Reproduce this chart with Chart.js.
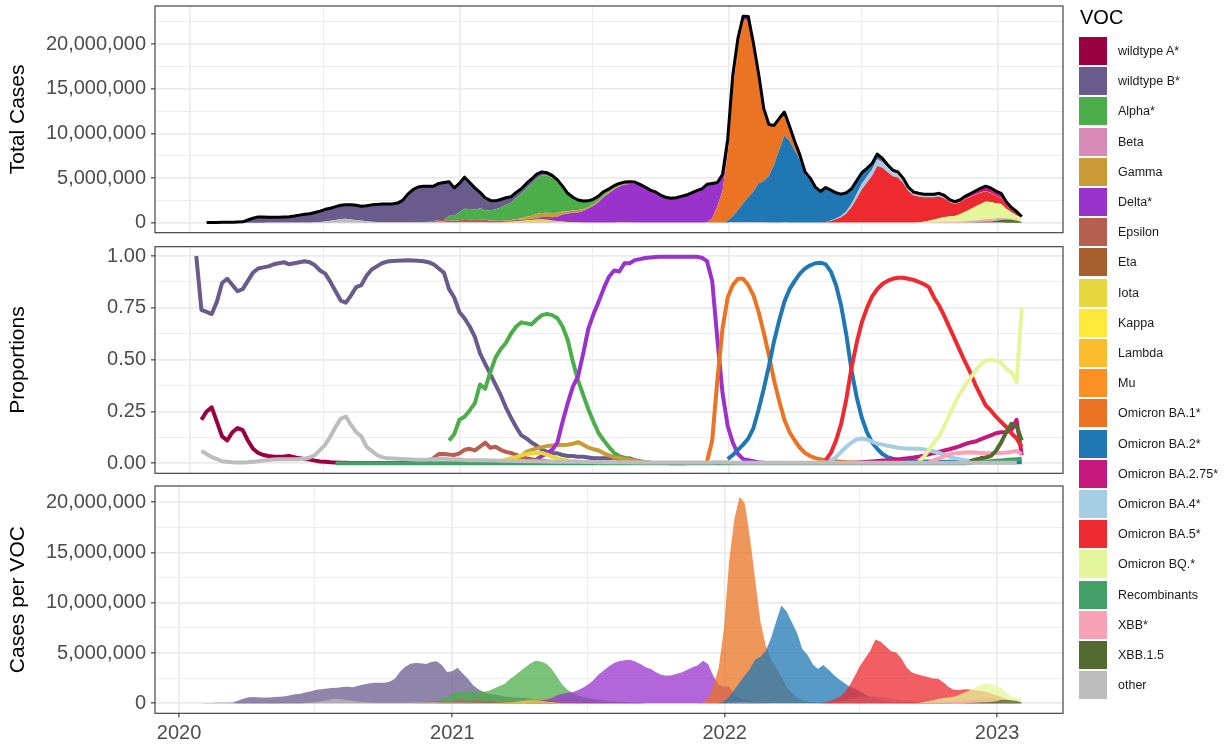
<!DOCTYPE html>
<html>
<head>
<meta charset="utf-8">
<title>SARS-CoV-2 variants of concern</title>
<script src="https://cdn.jsdelivr.net/npm/chart.js@4.4.1/dist/chart.umd.min.js"></script>
<style>
  html, body { margin: 0; padding: 0; background: #ffffff; }
  body { width: 1225px; height: 744px; position: relative; overflow: hidden;
         font-family: "Liberation Sans", Arial, Helvetica, sans-serif; }
  canvas.panel { position: absolute; left: 0; }
  #legend { position: absolute; left: 0; top: 0; width: 1225px; height: 744px; pointer-events: none; }
  #legend .ttl { position: absolute; left: 1080px; top: 6px; font-size: 20px; color: #000; }
  #legend .key { position: absolute; left: 1079px; width: 28px; height: 28px; }
  #legend .lab { position: absolute; left: 1118px; font-size: 12.5px; color: #1a1a1a; line-height: 16px; white-space: nowrap; }
</style>
</head>
<body>
<canvas id="panelTotal" class="panel" style="top:0px" width="1070" height="240"></canvas>
<canvas id="panelShare" class="panel" style="top:240px" width="1070" height="240"></canvas>
<canvas id="panelCases" class="panel" style="top:480px" width="1070" height="264"></canvas>
<div id="legend"></div>
<script>
// ---- Lineages (legend order) ----
const vocNames = ['wildtype A*', 'wildtype B*', 'Alpha*', 'Beta', 'Gamma', 'Delta*', 'Epsilon', 'Eta',
  'Iota', 'Kappa', 'Lambda', 'Mu', 'Omicron BA.1*', 'Omicron BA.2*', 'Omicron BA.2.75*', 'Omicron BA.4*',
  'Omicron BA.5*', 'Omicron BQ.*', 'Recombinants', 'XBB*', 'XBB.1.5', 'other'];
const vocColors = ['#98003f', '#695b8c', '#4cae4a', '#d98bb7', '#c99a35', '#9933cc', '#b55f51', '#a65e2e',
  '#e6d640', '#ffe93b', '#fbbd2e', '#fd8f25', '#ea7424', '#1f78b4', '#c4187c', '#a6cee3',
  '#ec2a2f', '#e5f59a', '#44a069', '#f7a2b6', '#536a30', '#bdbdbd'];

// Week index 0 = 2020-01-10; each lineage's share is reported from this week on.
const vocFirstWeek = [1, 0, 49, 55, 60, 66, 44, 58, 58, 70, 75, 80, 99, 103, 128, 121, 122, 140, 27, 142, 150, 1];

// ---- Weekly share of sequences (%) ----
const shareWildtypeA = [21, 25, 27, 20, 13, 11, 15, 17, 16, 11,
  7, 5, 4, 3.5, 3.2, 3.2, 3.3, 3.5, 3, 2.4,
  2.1, 1.8, 1.3, 0.9, 0.7, 0.5, 0.4, 0.3, 0.3, 0.2,
  0.2, 0.2, 0.2, 0.1, 0.1, 0.1, 0.1, 0.1, 0.1, 0.1,
  0.1, 0.1, 0.1, 0.1, 0.1];
const shareWildtypeB = [100, 74, 73, 72, 78, 87, 89, 86, 83, 84,
  88, 92, 94, 94.5, 95, 96, 96.5, 97, 96, 96.5,
  97, 97.5, 97, 95.5, 93, 91.5, 87.5, 83, 78.5, 77.5,
  81, 85, 86, 90.5, 93.5, 95, 96.5, 97.3, 97.6, 97.7,
  97.8, 97.9, 97.8, 97.7, 97.5, 97, 96, 94, 92, 84,
  80, 73, 70, 66, 61, 53, 48, 43, 38, 33,
  27, 22, 17.5, 13.5, 12, 10, 8.5, 6.5, 5.5, 5,
  4.8, 4, 3.5, 3.5, 3.2, 3.2, 2.8, 2.4, 2.4, 2.4,
  2.4, 2.8, 2, 2, 2.4, 1.5, 1, 0.5, 0.3, 0.2,
  0.1, 0.1, 0, 0, 0, 0];
const shareAlpha = [11, 14, 21, 22.5, 25.5, 29, 38, 36, 44, 51,
  55, 58, 62.5, 66, 68, 67.5, 67, 69.5, 71.5, 72,
  71.5, 70, 66, 59.5, 49, 40, 33, 26, 20, 14.5,
  11, 7.8, 5, 3.5, 2.7, 2, 1.3, 0.8, 0.5, 0.3];
const shareBeta = [0.2, 0.3, 0.3, 0.4, 0.4, 0.4, 0.3, 0.3, 0.2, 0.2, 0.1, 0.1];
const shareGamma = [0.3, 0.6, 2, 3.5, 5.5, 6.5, 7.2, 7.8, 8.3, 8.6,
  8.8, 8.8, 9, 9.4, 10.2, 9, 7.6, 6.8, 6.2, 4.8,
  3.8, 3, 2.5, 2, 1.6, 1.2, 0.8, 0.5, 0.3, 0.2];
const shareDelta = [2, 3.5, 5, 6.5, 10, 20, 29, 37, 42, 53,
  65, 72, 78, 84.5, 90, 93, 92.5, 96.5, 96.5, 98,
  98.5, 99, 99.3, 99.5, 99.6, 99.7, 99.7, 99.7, 99.7, 99.7,
  99.7, 99.6, 99.2, 97.5, 88, 60, 34, 18, 10, 4.5,
  2, 1.5, 1, 0.5, 0.3, 0.2, 0.1];
const shareEpsilon = [0.5, 1, 2.5, 4.5, 4.5, 4.2, 4, 4.8, 6.5, 7,
  6.2, 8, 10, 7.5, 8, 6.5, 5.5, 5, 4, 3.2,
  2.5, 2, 1.6, 1.2, 0.9, 0.7, 0.5, 0.4, 0.3, 0.2, 0.1];
const shareEta = [0.1, 0.2, 0.2, 0.3, 0.3, 0.2, 0.2, 0.1, 0.1];
const shareIota = [0.5, 1, 1.8, 2.5, 3, 3.8, 4.5, 4.8, 5, 5,
  4.2, 3.2, 2.4, 1.8, 1.3, 1, 0.7, 0.5, 0.4, 0.3, 0.2, 0.1];
const shareKappa = [0.1, 0.1, 0.2, 0.2, 0.1, 0.1];
const shareLambda = [0.1, 0.2, 0.2, 0.3, 0.3, 0.2, 0.2, 0.1, 0.1];
const shareMu = [0.1, 0.2, 0.3, 0.4, 0.4, 0.3, 0.3, 0.2, 0.2, 0.1, 0.1];
const shareBA1 = [1, 11, 40, 65, 80, 86, 89, 89, 86, 81,
  73, 63, 52, 40, 30, 21, 15, 11, 7.5, 5,
  3.5, 2.5, 2, 1.5, 1.2, 1, 0.8, 0.6, 0.5, 0.4,
  0.3, 0.2];
const shareBA2 = [2, 4, 6.5, 9, 12, 17, 26, 36, 47, 59,
  69, 78, 84, 88, 91.5, 94, 95.5, 96.5, 96.8, 96,
  92.5, 86, 76, 62, 45, 32, 22, 15, 10, 7,
  4.5, 3, 2.2, 1.8, 1.5, 1.3, 1.1, 1, 0.9, 0.9,
  0.8, 0.8, 0.8, 0.7, 0.7, 0.7, 0.6, 0.6, 0.6, 0.6,
  0.5, 0.5, 0.5, 0.5, 0.5, 0.5, 0.5, 0.5];
const shareBA275 = [0.3, 0.5, 0.7, 0.9, 1.1, 1.3, 1.5, 1.7, 1.9, 2.2,
  2.5, 2.8, 3.2, 3.7, 4.3, 5, 5.5, 6.2, 6.8, 7.5,
  8.3, 9.3, 10, 10.5, 11.5, 12.5, 13.5, 14.5, 15, 15,
  16, 21, 4];
const shareBA4 = [0.3, 0.5, 1.5, 3, 5.5, 8, 10, 11.5, 12, 11.5,
  10.5, 9.5, 9, 8.5, 8, 7.5, 7.3, 7.2, 7, 7,
  6.8, 6.3, 5.7, 5, 4, 3.2, 2.5, 2, 1.5, 1.2,
  1, 1, 0.9, 0.9, 0.8, 0.8, 0.8, 0.8, 0.8];
const shareBA5 = [1.5, 5, 11, 19, 31, 46, 58, 68, 75, 80.5,
  84, 86.5, 88, 89, 89.5, 89.5, 89, 88.5, 87.5, 86.5,
  85, 80, 76, 71, 65.5, 60, 54.5, 49, 44, 38,
  33, 28, 25.5, 22.5, 20, 17.5, 14.5, 12, 8];
const shareBQ = [1, 3, 6.5, 10, 13, 18, 23.5, 29, 33.5, 37.5,
  41, 44.5, 47.5, 49.5, 50, 49.5, 48.5, 45.5, 44, 39, 75];
const shareRecombinants = [0, 0, 0, 0, 0, 0, 0, 0, 0, 0,
  0, 0, 0, 0, 0, 0, 0, 0, 0, 0,
  0, 0, 0, 0, 0, 0, 0, 0, 0, 0,
  0, 0, 0, 0, 0, 0, 0, 0, 0, 0,
  0, 0, 0, 0, 0, 0, 0, 0, 0, 0,
  0, 0, 0, 0, 0, 0, 0, 0, 0, 0,
  0, 0, 0, 0, 0, 0, 0, 0, 0, 0,
  0, 0, 0, 0, 0, 0, 0, 0, 0, 0,
  0, 0, 0, 0, 0, 0, 0, 0, 0, 0,
  0, 0, 0, 0, 0, 0, 0, 0, 0, 0,
  0, 0, 0, 0, 0, 0, 0, 0, 0, 0,
  0, 0, 0, 0, 0, 0, 0, 0, 0, 0,
  0, 0, 0, 0.3, 0.5, 0.6, 0.8, 1, 1.2, 1.4,
  1.6, 1.8, 2, 2.2];
const shareXBB = [0.5, 1.5, 2.5, 3.5, 4.3, 4.8, 5, 5.2, 5.3, 5.2,
  5, 4.8, 4.8, 5, 5, 5.2, 5.5, 6, 4.5];
const shareXBB15 = [1, 1.8, 2.4, 2.8, 3.5, 6, 10, 15, 19, 18, 11];
const shareOther = [6, 4.5, 3, 2, 1, 0.8, 0.5, 0.4, 0.4, 0.5,
  0.8, 1, 1.3, 1.6, 1.8, 2, 2, 2, 2, 2,
  2.2, 2.8, 4, 6.5, 9, 13, 17.5, 21.5, 22.5, 18.5,
  15, 13, 8, 6, 4, 3, 2.4, 2.3, 2.2, 2.1,
  2, 1.8, 1.7, 1.7, 1.8, 2, 2.2, 2.2, 2, 2,
  1.8, 1.6, 1.5, 1.5, 1.5, 1.5, 1.4, 1.3, 1.2, 1.2,
  1.2, 1.1, 1.1, 1, 1, 1, 0.9, 0.9, 0.8, 0.8,
  0.8, 0.7, 0.7, 0.7, 0.6, 0.6, 0.6, 0.5, 0.5, 0.5,
  0.5, 0.5, 0.5, 0.5, 0.4, 0.4, 0.4, 0.4, 0.4, 0.4,
  0.4, 0.4, 0.4, 0.4, 0.4, 0.4, 0.4, 0.4, 0.4, 0.4,
  0.5, 0.5, 0.4, 0.4, 0.3, 0.3, 0.3, 0.3, 0.3, 0.3,
  0.3, 0.3, 0.3, 0.3, 0.3, 0.3, 0.3, 0.3, 0.3, 0.3,
  0.3, 0.3, 0.3, 0.3, 0.3, 0.3, 0.3, 0.3, 0.3, 0.3,
  0.3, 0.3, 0.3, 0.3, 0.3, 0.3, 0.3, 0.3, 0.3, 0.3,
  0.3, 0.3, 0.3, 0.3, 0.3, 0.3, 0.3, 0.3, 0.3, 0.3,
  0.3, 0.3, 0.3, 0.3, 0.3, 0.3, 0.3, 0.3, 0.3];

const shareSeries = [shareWildtypeA, shareWildtypeB, shareAlpha, shareBeta, shareGamma, shareDelta,
  shareEpsilon, shareEta, shareIota, shareKappa, shareLambda, shareMu, shareBA1, shareBA2, shareBA275,
  shareBA4, shareBA5, shareBQ, shareRecombinants, shareXBB, shareXBB15, shareOther];

// ---- Weekly total cases (millions), reported from week 2 on ----
const totalFirstWeek = 2;
const totalCasesM = [0.02, 0.02, 0.03, 0.04, 0.05, 0.06, 0.08, 0.1, 0.3, 0.5,
  0.65, 0.65, 0.62, 0.6, 0.62, 0.65, 0.68, 0.75, 0.85, 0.95,
  1.0, 1.15, 1.3, 1.5, 1.62, 1.8, 1.95, 2.0, 2.0, 1.95,
  1.85, 1.9, 2.0, 2.05, 2.1, 2.1, 2.1, 2.2, 2.5, 3.2,
  3.7, 4.0, 4.1, 4.1, 4.1, 4.4, 4.5, 4.6, 3.9, 4.4,
  5.1, 4.5, 3.9, 3.4, 2.8, 2.5, 2.45, 2.6, 2.8, 2.9,
  3.4, 3.8, 4.4, 4.9, 5.45, 5.7, 5.6, 5.3, 4.8, 4.1,
  3.3, 2.85, 2.55, 2.43, 2.45, 2.65, 3.0, 3.5, 3.8, 4.15,
  4.4, 4.55, 4.6, 4.55, 4.3, 4.0, 3.65, 3.45, 3.1, 2.85,
  2.75, 2.8, 2.95, 3.1, 3.35, 3.6, 3.8, 4.3, 4.4, 4.5,
  5.4, 9.3, 16.6, 20.7, 23.15, 23.1, 20.1, 16.7, 12.8, 11.0,
  10.9, 11.7, 12.4, 10.8, 9.1, 7.6, 5.7, 5.0, 4.0, 3.5,
  3.95, 3.65, 3.35, 3.2, 3.35, 3.8, 4.7, 5.6, 6.1, 6.65,
  7.7, 7.2, 6.5, 5.9, 5.7, 5.0, 4.0, 3.45, 3.3, 3.2,
  3.2, 3.2, 3.3, 3.05, 2.6, 2.35, 2.55, 2.95, 3.25, 3.55,
  3.85, 4.1, 3.9, 3.55, 3.3, 2.35, 1.7, 1.25, 0.7];

// ---- Time axis: days after 2020-01-01 ----
const DAY_MS = 86400000;
const EPOCH = Date.UTC(2020, 0, 1);
const firstWeekDay = (Date.UTC(2020, 0, 10) - EPOCH) / DAY_MS;
const weekDay = i => firstWeekDay + 7 * i;
const yearStarts = [2020, 2021, 2022, 2023].map(y => ({ year: y, day: (Date.UTC(y, 0, 1) - EPOCH) / DAY_MS }));
const midYears = [2020, 2021, 2022].map(y => (Date.UTC(y, 6, 1) - EPOCH) / DAY_MS);
const xGridDays = [...yearStarts.map(d => d.day), ...midYears].sort((a, b) => a - b);
const yearOfDay = v => { const f = yearStarts.find(d => Math.abs(d.day - v) < 1e-6); return f ? String(f.year) : ''; };
const isYearStart = v => yearStarts.some(d => Math.abs(d.day - v) < 1e-6);

function expandedRange(firstWeek, lastWeek) {
  const a = weekDay(firstWeek), b = weekDay(lastWeek), pad = 0.05 * (b - a);
  return [a - pad, b + pad];
}

// ---- Derived series ----
function shareAt(k, i) {
  const j = i - vocFirstWeek[k];
  const s = shareSeries[k];
  return (j >= 0 && j < s.length) ? s[j] : null;
}
const lastWeek = totalFirstWeek + totalCasesM.length - 1;
const casesByVoc = vocNames.map(() => []);
totalCasesM.forEach((m, j) => {
  const i = totalFirstWeek + j;
  let sum = 0;
  vocNames.forEach((_, k) => { sum += shareAt(k, i) || 0; });
  vocNames.forEach((_, k) => {
    casesByVoc[k].push({ x: weekDay(i), y: m * 1e6 * (shareAt(k, i) || 0) / sum });
  });
});
const totalLine = totalCasesM.map((m, j) => ({ x: weekDay(totalFirstWeek + j), y: m * 1e6 }));
const shareLines = shareSeries.map((s, k) => s.map((v, j) => ({ x: weekDay(vocFirstWeek[k] + j), y: v / 100 })));

function withAlpha(hex, a) {
  const n = parseInt(hex.slice(1), 16);
  return `rgba(${(n >> 16) & 255},${(n >> 8) & 255},${n & 255},${a})`;
}

// ---- Shared styling ----
Chart.defaults.font.family = '"Liberation Sans", Arial, Helvetica, sans-serif';
const GRID = '#ebebeb';
const INK = '#333333';
const TICK_TEXT = '#4d4d4d';

const panelBorder = {
  id: 'panelBorder',
  afterDraw(chart) {
    const { ctx, chartArea: a } = chart;
    ctx.save();
    ctx.strokeStyle = INK;
    ctx.lineWidth = 1.1;
    ctx.strokeRect(a.left, a.top, a.right - a.left, a.bottom - a.top);
    ctx.restore();
  }
};

function xAxis(range, withLabels) {
  return {
    type: 'linear', min: range[0], max: range[1],
    afterBuildTicks: s => { s.ticks = xGridDays.map(v => ({ value: v })); },
    afterFit: s => { s.height = withLabels ? 30.7 : 0; s.paddingLeft = 0; s.paddingRight = 0; },
    border: { display: false },
    grid: {
      color: GRID,
      lineWidth: c => (c.tick && isYearStart(c.tick.value)) ? 1.7 : 0.85,
      drawTicks: withLabels,
      tickLength: 4,
      tickWidth: 1.1,
      tickColor: c => (c.tick && isYearStart(c.tick.value)) ? INK : 'rgba(0,0,0,0)'
    },
    ticks: {
      display: withLabels, autoSkip: false, maxRotation: 0, minRotation: 0,
      color: TICK_TEXT, font: { size: 20 }, padding: 4,
      callback: v => yearOfDay(v)
    }
  };
}

function yAxis(min, max, minorStep, format, title) {
  const isMajor = v => { const r = v / (2 * minorStep); return Math.abs(r - Math.round(r)) < 1e-6; };
  const gridValues = [];
  for (let v = 0; v <= max + 1e-9; v += minorStep) gridValues.push(v);
  return {
    type: 'linear', position: 'left', min, max,
    afterBuildTicks: s => { s.ticks = gridValues.map(v => ({ value: v })); },
    afterFit: s => { s.width = 155; s.paddingTop = 0; s.paddingBottom = 0; },
    border: { display: false },
    grid: {
      color: GRID,
      lineWidth: c => (c.tick && isMajor(c.tick.value)) ? 1.7 : 0.85,
      drawTicks: true,
      tickLength: 4,
      tickWidth: 1.1,
      tickColor: c => (c.tick && isMajor(c.tick.value)) ? INK : 'rgba(0,0,0,0)'
    },
    ticks: {
      autoSkip: false,
      color: TICK_TEXT, font: { size: 20 }, padding: 5,
      callback: v => isMajor(v) ? format(v) : ''
    },
    title: {
      display: true, text: title, color: '#000000',
      font: { size: 21 }, padding: { top: 6, bottom: 0 }
    }
  };
}

const commas = v => Math.round(v).toLocaleString('en-US');
const baseOptions = (padding, scales) => ({
  responsive: false, animation: false, devicePixelRatio: 1,
  layout: { padding },
  plugins: { legend: { display: false }, tooltip: { enabled: false } },
  elements: { point: { radius: 0 } },
  scales
});

// later lineages are drawn above earlier ones
const drawOrder = vocNames.map((_, k) => k).reverse();
const rangeTop = expandedRange(0, lastWeek);
const rangeCases = expandedRange(totalFirstWeek, lastWeek);

// ---- Panel 1: stacked cases by lineage with the weekly total ----
const totalSets = [{
  label: 'Total', data: totalLine, stack: 'total', fill: false,
  borderColor: '#000000', borderWidth: 3, pointRadius: 0, tension: 0, borderJoinStyle: 'round'
}];
drawOrder.forEach((k, n) => {
  totalSets.push({
    label: vocNames[k], data: casesByVoc[k], stack: 'voc',
    backgroundColor: vocColors[k], borderWidth: 0, pointRadius: 0, tension: 0,
    fill: n === 0 ? 'origin' : '-1'
  });
});
const yTotal = yAxis(-1.12e6, 24.29e6, 2.5e6, commas, 'Total Cases');
yTotal.stacked = true;
new Chart(document.getElementById('panelTotal'), {
  type: 'line',
  data: { datasets: totalSets },
  options: baseOptions({ top: 6, bottom: 7.3, left: 0, right: 7 },
    { x: xAxis(rangeTop, false), y: yTotal }),
  plugins: [panelBorder]
});

// ---- Panel 2: weekly share of each lineage ----
new Chart(document.getElementById('panelShare'), {
  type: 'line',
  data: {
    datasets: drawOrder.map(k => ({
      label: vocNames[k], data: shareLines[k], fill: false,
      borderColor: vocColors[k], borderWidth: 4, pointRadius: 0, tension: 0,
      borderJoinStyle: 'round'
    }))
  },
  options: baseOptions({ top: 6.7, bottom: 6.7, left: 0, right: 7 },
    { x: xAxis(rangeTop, false), y: yAxis(-0.0482, 1.0449, 0.125, v => v.toFixed(2), 'Proportions') }),
  plugins: [panelBorder]
});

// ---- Panel 3: overlapping cases per lineage ----
new Chart(document.getElementById('panelCases'), {
  type: 'line',
  data: {
    datasets: drawOrder.map(k => ({
      label: vocNames[k], data: casesByVoc[k], fill: 'origin',
      backgroundColor: withAlpha(vocColors[k], 0.75), borderWidth: 0, pointRadius: 0, tension: 0
    }))
  },
  options: baseOptions({ top: 6, bottom: 0, left: 0, right: 7 },
    { x: xAxis(rangeCases, true), y: yAxis(-0.995e6, 21.62e6, 2.5e6, commas, 'Cases per VOC') }),
  plugins: [panelBorder]
});

// ---- Legend ----
const legend = document.getElementById('legend');
let html = '<div class="ttl">VOC</div>';
vocNames.forEach((name, k) => {
  const cy = 51 + 30.2 * k;
  html += `<div class="key" style="top:${(cy - 14).toFixed(1)}px;background:${vocColors[k]}"></div>` +
          `<div class="lab" style="top:${(cy - 8).toFixed(1)}px">${name}</div>`;
});
legend.innerHTML = html;
</script>
</body>
</html>
